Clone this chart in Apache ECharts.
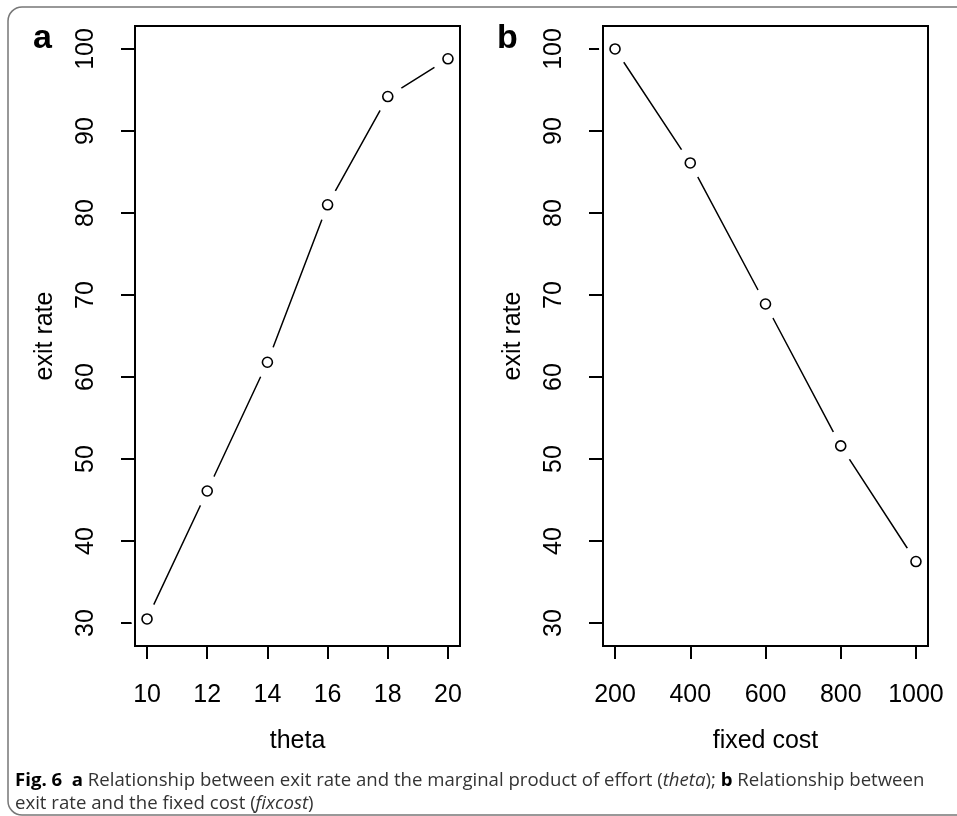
<!DOCTYPE html>
<html>
<head>
<meta charset="utf-8">
<script src="https://cdn.jsdelivr.net/npm/echarts@6/dist/echarts.min.js"></script>
<style>
  html, body { margin: 0; padding: 0; background: #fff; }
  #chart { width: 957px; height: 816px; }
</style>
</head>
<body>
<div id="chart"></div>
<script>
// panel a: exit rate vs theta
var thetaValues = [10, 12, 14, 16, 18, 20];
var exitRateTheta = [30.5, 46.1, 61.8, 81.0, 94.2, 98.8];
// panel b: exit rate vs fixed cost
var fixedCostValues = [200, 400, 600, 800, 1000];
var exitRateFixedCost = [100.0, 86.1, 68.9, 51.6, 37.5];
// tick labels
var thetaTicks = [10, 12, 14, 16, 18, 20];
var fixedCostTicks = [200, 400, 600, 800, 1000];
var exitRateTicks = [30, 40, 50, 60, 70, 80, 90, 100];

var font = 'Liberation Sans, Arial, sans-serif';
var myChart = echarts.init(document.getElementById('chart'));

function pairs(xs, ys) {
  return xs.map(function (x, i) { return [x, ys[i]]; });
}

function xAxisOf(idx, name, min, max, ticks) {
  return {
    gridIndex: idx,
    type: 'value',
    min: min,
    max: max,
    name: name,
    nameLocation: 'middle',
    nameGap: 95,
    nameTextStyle: { fontFamily: font, fontSize: 25, color: '#000', verticalAlign: 'middle' },
    axisLine: { show: false },
    axisTick: { show: true, length: 13, lineStyle: { color: '#000', width: 2 }, customValues: ticks },
    axisLabel: {
      fontFamily: font, fontSize: 25, color: '#000', margin: 37, customValues: ticks,
      formatter: function (v) { return String(v); }
    },
    splitLine: { show: false }
  };
}

function yAxisOf(idx) {
  return {
    gridIndex: idx,
    type: 'value',
    min: 27.2,
    max: 102.8,
    name: 'exit rate',
    nameLocation: 'middle',
    nameGap: 90,
    nameTextStyle: { fontFamily: font, fontSize: 25, color: '#000', verticalAlign: 'middle' },
    axisLine: { show: false },
    axisTick: { show: true, length: 14, lineStyle: { color: '#000', width: 2 }, customValues: exitRateTicks },
    axisLabel: { fontFamily: font, fontSize: 25, color: '#000', rotate: 90, margin: 36, customValues: exitRateTicks },
    splitLine: { show: false }
  };
}

// R type="b": line with gaps round each point
function seriesOf(idx, data) {
  return [
    {
      type: 'line', xAxisIndex: idx, yAxisIndex: idx, z: 1,
      symbol: 'none', lineStyle: { color: '#000', width: 1.5 },
      data: data
    },
    {
      type: 'scatter', xAxisIndex: idx, yAxisIndex: idx, z: 2,
      symbol: 'circle', symbolSize: 32,
      itemStyle: { color: '#fff', opacity: 1 },
      data: data, silent: true
    },
    {
      type: 'scatter', xAxisIndex: idx, yAxisIndex: idx, z: 3,
      symbol: 'circle', symbolSize: 10,
      itemStyle: { color: '#fff', borderColor: '#000', borderWidth: 1.6, opacity: 1 },
      data: data
    }
  ];
}

var option = {
  backgroundColor: '#fff',
  animation: false,
  grid: [
    { left: 135, top: 26, width: 325, height: 620, show: true, borderColor: '#000', borderWidth: 2, z: 10 },
    { left: 603, top: 26, width: 325, height: 620, show: true, borderColor: '#000', borderWidth: 2, z: 10 }
  ],
  xAxis: [
    xAxisOf(0, 'theta', 9.6, 20.4, thetaTicks),
    xAxisOf(1, 'fixed cost', 168, 1032, fixedCostTicks)
  ],
  yAxis: [yAxisOf(0), yAxisOf(1)],
  series: seriesOf(0, pairs(thetaValues, exitRateTheta))
    .concat(seriesOf(1, pairs(fixedCostValues, exitRateFixedCost))),
  graphic: [
    {
      type: 'rect', z: 0, silent: true,
      shape: { x: 8, y: 7, width: 990, height: 808, r: 14 },
      style: { fill: 'none', stroke: '#777', lineWidth: 1.5 }
    },
    {
      type: 'text', left: 33, top: 22,
      style: { text: 'a', font: 'bold 34px ' + font, fill: '#000' }
    },
    {
      type: 'text', left: 497, top: 22,
      style: { text: 'b', font: 'bold 34px ' + font, fill: '#000' }
    },
    {
      type: 'text', left: 15, top: 769,
      style: {
        text: '{b|Fig. 6}  {b|a} Relationship between exit rate and the marginal product of effort ({i|theta}); {b|b} Relationship between\nexit rate and the fixed cost ({i|fixcost})',
        font: '18.6px Open Sans, sans-serif',
        fill: '#333',
        lineHeight: 23,
        rich: {
          b: { fontWeight: 'bold', fontFamily: 'Open Sans, sans-serif', fontSize: 18.6, fill: '#000', lineHeight: 23 },
          i: { fontStyle: 'italic', fontFamily: 'Open Sans, sans-serif', fontSize: 18.6, fill: '#333', lineHeight: 23 }
        }
      }
    }
  ]
};

myChart.setOption(option);
</script>
</body>
</html>
